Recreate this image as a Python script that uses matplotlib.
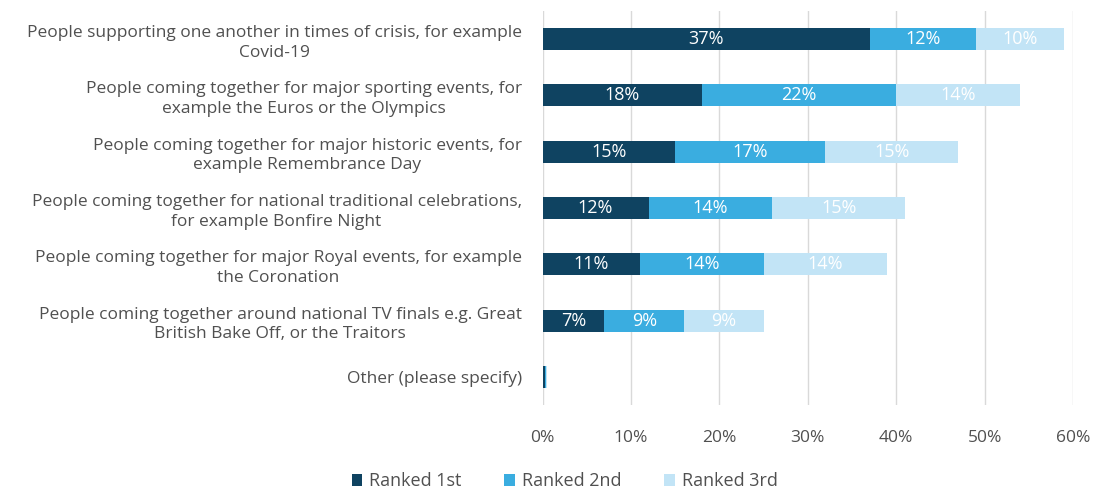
import numpy as np
import matplotlib.pyplot as plt

plt.rcParams["font.family"] = ["Open Sans", "DejaVu Sans"]

# Ranked reasons for national togetherness, share of respondents (%)
categories = [
    "People supporting one another in times of crisis, for example\nCovid-19",
    "People coming together for major sporting events, for\nexample the Euros or the Olympics",
    "People coming together for major historic events, for\nexample Remembrance Day",
    "People coming together for national traditional celebrations,\nfor example Bonfire Night",
    "People coming together for major Royal events, for example\nthe Coronation",
    "People coming together around national TV finals e.g. Great\nBritish Bake Off, or the Traitors",
    "Other (please specify)",
]
ranked_1st = [37, 18, 15, 12, 11, 7, 0.3]
ranked_2nd = [12, 22, 17, 14, 14, 9, 0.1]
ranked_3rd = [10, 14, 15, 15, 14, 9, 0.1]
series_names = ["Ranked 1st", "Ranked 2nd", "Ranked 3rd"]
xticks = [0, 10, 20, 30, 40, 50, 60]

COLORS = ["#0f4361", "#3aade0", "#c2e4f6"]
TEXT = "#505050"

fig = plt.figure(figsize=(10.96, 4.91), dpi=100)
ax = fig.add_axes([0.495, 0.175, 0.484, 0.803])

y = np.arange(len(categories))
left = np.zeros(len(categories))
for vals, name, color in zip((ranked_1st, ranked_2nd, ranked_3rd), series_names, COLORS):
    vals = np.asarray(vals, dtype=float)
    ax.barh(y, vals, left=left, height=0.39, color=color, label=name, zorder=2)
    for yi, l, v in zip(y, left, vals):
        if v >= 1:
            ax.text(l + v / 2, yi, f"{v:.0f}%", ha="center", va="center",
                    color="white", fontsize=13, zorder=3)
    left += vals

ax.set_xlim(0, 60)
ax.set_ylim(len(categories) - 0.5, -0.5)
ax.set_xticks(xticks)
ax.set_xticklabels([f"{t}%" for t in xticks], fontsize=12.5, color=TEXT)
ax.set_yticks(y)
ax.set_yticklabels(categories, fontsize=12.5, color=TEXT, ha="right",
                   multialignment="center", linespacing=1.3)
ax.tick_params(axis="both", length=0)
ax.tick_params(axis="x", pad=18)
ax.tick_params(axis="y", pad=15)
ax.grid(axis="x", color="#d9d9d9", linewidth=1, zorder=0)
for s in ax.spines.values():
    s.set_visible(False)

handles, labels = ax.get_legend_handles_labels()
fig.legend(handles, labels, loc="center", bbox_to_anchor=(0.515, 0.02), ncol=3,
           frameon=False, fontsize=13, handlelength=0.6, handleheight=0.6,
           columnspacing=2.4, handletextpad=0.35, labelcolor=TEXT)

fig.savefig("out.png", dpi=100)
